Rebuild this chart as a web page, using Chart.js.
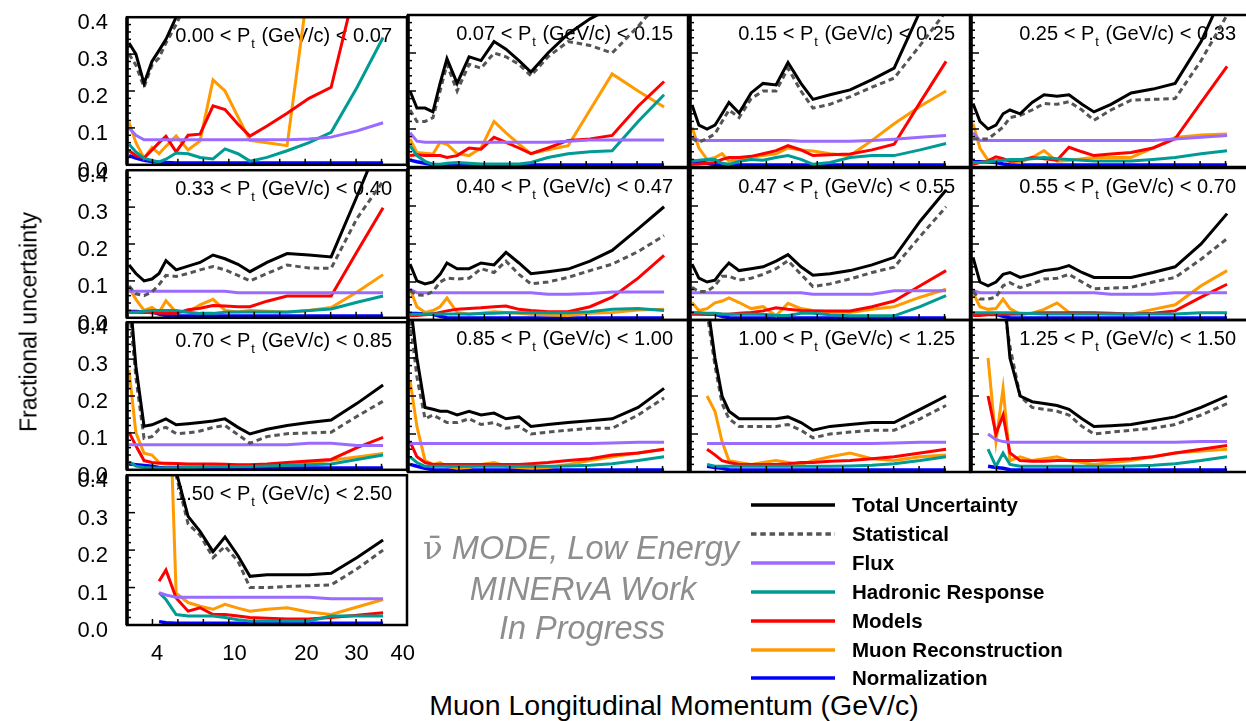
<!DOCTYPE html>
<html>
<head>
<meta charset="utf-8">
<script src="https://cdn.jsdelivr.net/npm/chart.js@4.4.1/dist/chart.umd.min.js"></script>
<style>
  body { margin: 0; background: #fff; }
  #page { position: relative; width: 1246px; height: 721px; overflow: hidden; font-family: "Liberation Sans", Arial, sans-serif; }
  #page canvas { position: absolute; }
  .txt { position: absolute; white-space: nowrap; line-height: 1; transform: translate(-50%, -50%); }
  .leg { position: absolute; left: 751px; height: 20px; }
  .leg span { position: absolute; left: 101px; top: 0; font-weight: bold; font-size: 20.5px; line-height: 20px; color: #000; white-space: nowrap; }
</style>
</head>
<body>
<div id="page"></div>
<script>
// bin positions along the (non-uniform) muon p_z axis, in axis units
const pzPos = [0.08, 0.35, 0.67, 0.98, 1.26, 1.53, 1.93, 2.40, 2.87, 3.38, 3.85, 4.36, 4.83, 5.50, 6.29, 7.15, 8.02, 9.04, 10.06];
const pzTickPos = [1.18, 4.22, 7.05, 9.02, 10.83];
const pzTickLabels = ["4", "10", "20", "30", "40"];

const ptLow  = ["0.00", "0.07", "0.15", "0.25", "0.33", "0.40", "0.47", "0.55", "0.70", "0.85", "1.00", "1.25", "1.50"];
const ptHigh = ["0.07", "0.15", "0.25", "0.33", "0.40", "0.47", "0.55", "0.70", "0.85", "1.00", "1.25", "1.50", "2.50"];

const seriesNames = ["Total Uncertainty", "Statistical", "Flux", "Hadronic Response", "Models", "Muon Reconstruction", "Normalization"];

const total = [
  [0.33, 0.30, 0.22, 0.28, 0.31, 0.34, 0.40, 0.46, 0.50, 0.55, 0.60, 0.62, 0.65, 0.70, 0.75, 0.80, 0.85, 0.90, 0.95],
  [0.20, 0.155, 0.155, 0.145, 0.22, 0.285, 0.22, 0.29, 0.28, 0.33, 0.31, 0.28, 0.25, 0.30, 0.35, 0.39, 0.42, 0.45, 0.50],
  [0.163, 0.11, 0.10, 0.11, 0.14, 0.17, 0.142, 0.195, 0.22, 0.216, 0.275, 0.22, 0.178, 0.19, 0.203, 0.23, 0.26, 0.41, 0.50],
  [0.167, 0.12, 0.10, 0.11, 0.14, 0.15, 0.14, 0.17, 0.19, 0.186, 0.19, 0.165, 0.145, 0.165, 0.195, 0.205, 0.22, 0.33, 0.48],
  [0.143, 0.12, 0.10, 0.105, 0.12, 0.155, 0.13, 0.14, 0.15, 0.17, 0.16, 0.145, 0.125, 0.15, 0.174, 0.17, 0.165, 0.33, 0.50],
  [0.147, 0.103, 0.095, 0.10, 0.12, 0.15, 0.135, 0.135, 0.15, 0.145, 0.178, 0.15, 0.122, 0.127, 0.134, 0.155, 0.183, 0.24, 0.298],
  [0.147, 0.11, 0.10, 0.105, 0.13, 0.15, 0.13, 0.135, 0.14, 0.155, 0.172, 0.14, 0.118, 0.122, 0.13, 0.145, 0.165, 0.26, 0.342],
  [0.165, 0.10, 0.09, 0.10, 0.12, 0.125, 0.112, 0.12, 0.13, 0.134, 0.143, 0.125, 0.112, 0.112, 0.112, 0.125, 0.14, 0.20, 0.28],
  [0.50, 0.28, 0.118, 0.122, 0.13, 0.138, 0.122, 0.125, 0.128, 0.132, 0.138, 0.115, 0.097, 0.11, 0.12, 0.128, 0.135, 0.18, 0.23],
  [0.45, 0.30, 0.17, 0.165, 0.16, 0.16, 0.15, 0.16, 0.15, 0.155, 0.14, 0.145, 0.12, 0.125, 0.13, 0.135, 0.14, 0.17, 0.22],
  [null, null, 0.45, 0.30, 0.20, 0.16, 0.14, 0.14, 0.14, 0.14, 0.145, 0.13, 0.11, 0.12, 0.125, 0.13, 0.13, 0.165, 0.20],
  [null, null, null, 0.60, 0.50, 0.30, 0.20, 0.185, 0.18, 0.175, 0.165, 0.14, 0.12, 0.122, 0.125, 0.135, 0.145, 0.17, 0.20],
  [null, null, null, null, null, 0.60, 0.41, 0.29, 0.25, 0.196, 0.235, 0.185, 0.13, 0.134, 0.134, 0.134, 0.138, 0.18, 0.227]
];

const stat = [
  [0.30, 0.27, 0.21, 0.27, 0.29, 0.33, 0.38, 0.45, 0.50, 0.55, 0.60, 0.62, 0.65, 0.70, 0.75, 0.80, 0.85, 0.90, 0.95],
  [0.15, 0.12, 0.12, 0.13, 0.20, 0.27, 0.20, 0.27, 0.26, 0.30, 0.29, 0.27, 0.24, 0.29, 0.33, 0.32, 0.30, 0.37, 0.45],
  [0.075, 0.065, 0.075, 0.087, 0.12, 0.15, 0.13, 0.18, 0.20, 0.20, 0.26, 0.20, 0.155, 0.165, 0.185, 0.21, 0.234, 0.32, 0.41],
  [0.074, 0.074, 0.074, 0.09, 0.105, 0.13, 0.136, 0.15, 0.167, 0.165, 0.172, 0.15, 0.123, 0.15, 0.176, 0.178, 0.18, 0.28, 0.40],
  [0.086, 0.065, 0.06, 0.07, 0.09, 0.115, 0.112, 0.12, 0.13, 0.139, 0.13, 0.115, 0.10, 0.12, 0.143, 0.135, 0.134, 0.27, 0.37],
  [0.077, 0.066, 0.065, 0.075, 0.10, 0.11, 0.108, 0.11, 0.135, 0.125, 0.155, 0.12, 0.095, 0.10, 0.112, 0.13, 0.147, 0.18, 0.222],
  [0.086, 0.075, 0.075, 0.09, 0.115, 0.115, 0.105, 0.11, 0.12, 0.135, 0.156, 0.12, 0.088, 0.095, 0.108, 0.125, 0.139, 0.22, 0.298],
  [0.075, 0.055, 0.055, 0.06, 0.09, 0.098, 0.085, 0.095, 0.108, 0.11, 0.12, 0.10, 0.082, 0.084, 0.086, 0.10, 0.112, 0.16, 0.214],
  [0.45, 0.25, 0.085, 0.09, 0.11, 0.115, 0.098, 0.10, 0.105, 0.115, 0.12, 0.095, 0.072, 0.09, 0.098, 0.10, 0.102, 0.145, 0.186],
  [0.40, 0.25, 0.14, 0.15, 0.14, 0.13, 0.13, 0.14, 0.125, 0.13, 0.115, 0.12, 0.10, 0.105, 0.11, 0.115, 0.115, 0.15, 0.195],
  [null, null, 0.42, 0.28, 0.18, 0.14, 0.12, 0.12, 0.12, 0.12, 0.125, 0.11, 0.09, 0.10, 0.105, 0.11, 0.11, 0.14, 0.175],
  [null, null, null, 0.50, 0.45, 0.33, 0.20, 0.17, 0.165, 0.16, 0.15, 0.12, 0.10, 0.105, 0.11, 0.115, 0.125, 0.15, 0.18],
  [null, null, null, null, null, 0.55, 0.40, 0.27, 0.24, 0.18, 0.21, 0.17, 0.10, 0.10, 0.103, 0.105, 0.107, 0.15, 0.20]
];

const flux = [
  [0.10, 0.08, 0.068, 0.068, 0.068, 0.068, 0.068, 0.068, 0.068, 0.068, 0.068, 0.068, 0.068, 0.068, 0.068, 0.07, 0.075, 0.092, 0.114],
  [0.09, 0.068, 0.065, 0.065, 0.065, 0.065, 0.065, 0.065, 0.065, 0.065, 0.065, 0.065, 0.065, 0.065, 0.068, 0.071, 0.071, 0.071, 0.071],
  [0.078, 0.07, 0.07, 0.07, 0.07, 0.07, 0.07, 0.07, 0.07, 0.07, 0.07, 0.068, 0.068, 0.068, 0.068, 0.07, 0.073, 0.078, 0.083],
  [0.09, 0.07, 0.07, 0.07, 0.07, 0.07, 0.07, 0.07, 0.07, 0.07, 0.07, 0.07, 0.07, 0.07, 0.07, 0.07, 0.074, 0.078, 0.083],
  [0.072, 0.072, 0.072, 0.072, 0.072, 0.072, 0.072, 0.072, 0.072, 0.072, 0.072, 0.068, 0.068, 0.068, 0.068, 0.068, 0.068, 0.068, 0.068],
  [0.081, 0.072, 0.072, 0.072, 0.072, 0.072, 0.072, 0.072, 0.072, 0.072, 0.072, 0.072, 0.072, 0.068, 0.068, 0.07, 0.074, 0.074, 0.074],
  [0.072, 0.072, 0.072, 0.072, 0.072, 0.072, 0.072, 0.072, 0.072, 0.072, 0.072, 0.072, 0.068, 0.068, 0.068, 0.068, 0.077, 0.077, 0.077],
  [0.077, 0.072, 0.072, 0.072, 0.072, 0.072, 0.072, 0.072, 0.072, 0.072, 0.072, 0.072, 0.072, 0.068, 0.068, 0.068, 0.072, 0.072, 0.072],
  [0.068, 0.068, 0.068, 0.068, 0.068, 0.068, 0.068, 0.068, 0.068, 0.068, 0.068, 0.068, 0.068, 0.068, 0.068, 0.072, 0.072, 0.066, 0.066],
  [0.075, 0.075, 0.075, 0.075, 0.075, 0.075, 0.075, 0.075, 0.075, 0.075, 0.075, 0.075, 0.075, 0.075, 0.075, 0.075, 0.076, 0.078, 0.078],
  [null, null, 0.075, 0.075, 0.075, 0.075, 0.075, 0.075, 0.075, 0.075, 0.075, 0.075, 0.075, 0.075, 0.075, 0.075, 0.076, 0.078, 0.078],
  [null, null, 0.10, 0.085, 0.08, 0.078, 0.078, 0.078, 0.078, 0.078, 0.078, 0.078, 0.078, 0.078, 0.078, 0.078, 0.078, 0.08, 0.08],
  [null, null, null, null, 0.086, 0.08, 0.074, 0.074, 0.074, 0.074, 0.074, 0.074, 0.074, 0.074, 0.074, 0.074, 0.07, 0.07, 0.07]
];

const hadronic = [
  [0.056, 0.035, 0.018, 0.012, 0.008, 0.015, 0.032, 0.03, 0.02, 0.016, 0.043, 0.03, 0.01, 0.02, 0.038, 0.06, 0.088, 0.21, 0.345],
  [0.056, 0.03, 0.015, 0.007, 0.007, 0.01, 0.012, 0.01, 0.008, 0.008, 0.008, 0.008, 0.012, 0.025, 0.035, 0.04, 0.043, 0.12, 0.19],
  [0.016, 0.018, 0.02, 0.02, 0.01, 0.007, 0.015, 0.02, 0.018, 0.025, 0.03, 0.02, 0.007, 0.012, 0.025, 0.03, 0.03, 0.045, 0.062],
  [0.012, 0.012, 0.014, 0.016, 0.018, 0.02, 0.02, 0.022, 0.025, 0.022, 0.02, 0.018, 0.016, 0.016, 0.016, 0.02, 0.025, 0.035, 0.043],
  [0.015, 0.015, 0.018, 0.02, 0.02, 0.02, 0.02, 0.015, 0.012, 0.012, 0.015, 0.016, 0.016, 0.016, 0.016, 0.02, 0.024, 0.042, 0.059],
  [0.015, 0.015, 0.016, 0.016, 0.016, 0.016, 0.016, 0.016, 0.017, 0.018, 0.019, 0.019, 0.019, 0.019, 0.019, 0.022, 0.028, 0.03, 0.025],
  [0.019, 0.019, 0.018, 0.018, 0.016, 0.015, 0.015, 0.015, 0.015, 0.012, 0.012, 0.018, 0.018, 0.014, 0.011, 0.011, 0.011, 0.035, 0.064],
  [0.019, 0.019, 0.019, 0.019, 0.019, 0.019, 0.018, 0.017, 0.016, 0.016, 0.016, 0.016, 0.016, 0.016, 0.016, 0.016, 0.016, 0.019, 0.019],
  [0.022, 0.01, 0.006, 0.005, 0.005, 0.005, 0.005, 0.006, 0.007, 0.008, 0.008, 0.008, 0.009, 0.01, 0.012, 0.014, 0.016, 0.028, 0.04],
  [0.04, 0.025, 0.015, 0.015, 0.015, 0.015, 0.015, 0.015, 0.015, 0.015, 0.015, 0.015, 0.015, 0.015, 0.016, 0.018, 0.022, 0.03, 0.04],
  [null, null, 0.02, 0.015, 0.015, 0.015, 0.015, 0.015, 0.015, 0.015, 0.015, 0.015, 0.015, 0.015, 0.016, 0.018, 0.022, 0.03, 0.04],
  [null, null, 0.06, 0.015, 0.05, 0.02, 0.015, 0.015, 0.015, 0.015, 0.015, 0.015, 0.015, 0.015, 0.016, 0.018, 0.022, 0.03, 0.04],
  [null, null, null, null, 0.086, 0.068, 0.028, 0.024, 0.024, 0.024, 0.02, 0.014, 0.011, 0.011, 0.011, 0.011, 0.024, 0.024, 0.024]
];

const models = [
  [0.038, 0.025, 0.018, 0.04, 0.06, 0.077, 0.035, 0.08, 0.083, 0.16, 0.15, 0.11, 0.078, 0.105, 0.14, 0.18, 0.21, 0.50, 0.60],
  [0.03, 0.032, 0.03, 0.03, 0.03, 0.025, 0.03, 0.05, 0.047, 0.078, 0.065, 0.05, 0.035, 0.05, 0.07, 0.074, 0.083, 0.16, 0.225],
  [0.007, 0.008, 0.01, 0.012, 0.02, 0.025, 0.025, 0.028, 0.035, 0.043, 0.056, 0.045, 0.03, 0.032, 0.034, 0.045, 0.06, 0.17, 0.278],
  [0.007, 0.012, 0.016, 0.027, 0.022, 0.015, 0.018, 0.025, 0.022, 0.018, 0.052, 0.04, 0.03, 0.034, 0.038, 0.05, 0.074, 0.17, 0.265],
  [0.015, 0.015, 0.015, 0.014, 0.013, 0.012, 0.012, 0.022, 0.026, 0.033, 0.032, 0.03, 0.03, 0.045, 0.059, 0.059, 0.059, 0.18, 0.298],
  [0.011, 0.012, 0.014, 0.016, 0.02, 0.024, 0.028, 0.03, 0.032, 0.035, 0.037, 0.028, 0.025, 0.022, 0.022, 0.035, 0.06, 0.11, 0.17],
  [0.015, 0.015, 0.015, 0.015, 0.015, 0.015, 0.018, 0.02, 0.024, 0.032, 0.028, 0.025, 0.024, 0.024, 0.024, 0.035, 0.05, 0.09, 0.13],
  [0.012, 0.012, 0.014, 0.014, 0.015, 0.015, 0.016, 0.018, 0.019, 0.019, 0.019, 0.019, 0.019, 0.018, 0.016, 0.018, 0.024, 0.06, 0.094],
  [0.102, 0.065, 0.025, 0.02, 0.018, 0.018, 0.017, 0.016, 0.016, 0.016, 0.015, 0.014, 0.014, 0.016, 0.02, 0.024, 0.028, 0.06, 0.088],
  [0.08, 0.04, 0.025, 0.02, 0.02, 0.02, 0.02, 0.02, 0.02, 0.02, 0.02, 0.02, 0.022, 0.025, 0.03, 0.035, 0.045, 0.05, 0.06],
  [null, null, 0.06, 0.045, 0.03, 0.025, 0.02, 0.02, 0.02, 0.02, 0.022, 0.025, 0.025, 0.028, 0.03, 0.035, 0.04, 0.05, 0.06],
  [null, null, 0.20, 0.10, 0.15, 0.05, 0.03, 0.028, 0.028, 0.03, 0.03, 0.03, 0.03, 0.032, 0.035, 0.04, 0.05, 0.06, 0.07],
  [null, null, null, null, 0.117, 0.147, 0.072, 0.037, 0.046, 0.028, 0.028, 0.024, 0.02, 0.018, 0.016, 0.016, 0.02, 0.026, 0.033]
];

const muon = [
  [0.115, 0.06, 0.018, 0.047, 0.03, 0.05, 0.078, 0.04, 0.065, 0.23, 0.20, 0.13, 0.066, 0.06, 0.052, 0.50, 0.60, 0.70, 0.80],
  [0.074, 0.038, 0.036, 0.034, 0.065, 0.06, 0.035, 0.03, 0.05, 0.12, 0.09, 0.06, 0.035, 0.045, 0.056, 0.15, 0.245, 0.20, 0.158],
  [0.105, 0.05, 0.02, 0.025, 0.035, 0.015, 0.022, 0.025, 0.03, 0.035, 0.05, 0.045, 0.042, 0.035, 0.03, 0.07, 0.114, 0.16, 0.20],
  [0.114, 0.05, 0.018, 0.018, 0.018, 0.016, 0.012, 0.025, 0.043, 0.015, 0.017, 0.022, 0.025, 0.025, 0.025, 0.05, 0.078, 0.084, 0.087],
  [0.081, 0.05, 0.02, 0.028, 0.015, 0.046, 0.015, 0.016, 0.035, 0.05, 0.02, 0.016, 0.02, 0.018, 0.015, 0.02, 0.028, 0.07, 0.117],
  [0.081, 0.035, 0.02, 0.025, 0.035, 0.058, 0.02, 0.015, 0.018, 0.022, 0.02, 0.018, 0.015, 0.013, 0.012, 0.018, 0.02, 0.026, 0.028],
  [0.046, 0.025, 0.03, 0.045, 0.05, 0.058, 0.046, 0.03, 0.035, 0.011, 0.044, 0.03, 0.025, 0.022, 0.02, 0.028, 0.035, 0.06, 0.081],
  [0.072, 0.035, 0.028, 0.03, 0.055, 0.03, 0.015, 0.018, 0.028, 0.045, 0.02, 0.018, 0.018, 0.016, 0.015, 0.028, 0.04, 0.09, 0.13],
  [0.27, 0.10, 0.045, 0.04, 0.02, 0.015, 0.015, 0.013, 0.012, 0.012, 0.012, 0.012, 0.012, 0.012, 0.013, 0.018, 0.026, 0.035, 0.044],
  [0.24, 0.12, 0.03, 0.02, 0.025, 0.015, 0.01, 0.012, 0.02, 0.025, 0.015, 0.012, 0.01, 0.012, 0.02, 0.03, 0.04, 0.05, 0.06],
  [null, null, 0.20, 0.16, 0.08, 0.03, 0.025, 0.02, 0.025, 0.03, 0.025, 0.02, 0.03, 0.04, 0.05, 0.035, 0.03, 0.04, 0.045],
  [null, null, 0.30, 0.08, 0.22, 0.03, 0.04, 0.03, 0.035, 0.04, 0.03, 0.025, 0.02, 0.025, 0.03, 0.04, 0.05, 0.055, 0.06],
  [null, null, null, null, null, 0.90, 0.085, 0.06, 0.05, 0.042, 0.055, 0.045, 0.037, 0.042, 0.046, 0.035, 0.028, 0.048, 0.068]
];

const norm = [
  [0.025, 0.018, 0.012, 0.009, 0.007, 0.006, 0.005, 0.005, 0.005, 0.005, 0.005, 0.005, 0.005, 0.005, 0.005, 0.005, 0.005, 0.005, 0.005],
  [0.018, 0.014, 0.01, 0.006, 0.005, 0.005, 0.005, 0.005, 0.005, 0.005, 0.005, 0.005, 0.005, 0.005, 0.005, 0.005, 0.005, 0.005, 0.005],
  [0.016, 0.014, 0.01, 0.006, 0.005, 0.005, 0.005, 0.005, 0.005, 0.005, 0.005, 0.005, 0.005, 0.005, 0.005, 0.005, 0.005, 0.005, 0.005],
  [0.014, 0.014, 0.013, 0.012, 0.008, 0.006, 0.005, 0.005, 0.005, 0.005, 0.005, 0.005, 0.005, 0.005, 0.005, 0.005, 0.005, 0.005, 0.005],
  [0.017, 0.017, 0.016, 0.016, 0.01, 0.006, 0.005, 0.005, 0.005, 0.005, 0.005, 0.005, 0.005, 0.005, 0.005, 0.005, 0.005, 0.005, 0.005],
  [0.017, 0.017, 0.016, 0.015, 0.01, 0.006, 0.005, 0.005, 0.005, 0.005, 0.005, 0.005, 0.005, 0.005, 0.005, 0.005, 0.005, 0.005, 0.005],
  [0.018, 0.017, 0.016, 0.015, 0.01, 0.006, 0.005, 0.005, 0.005, 0.005, 0.005, 0.005, 0.005, 0.005, 0.005, 0.005, 0.005, 0.005, 0.005],
  [0.016, 0.016, 0.016, 0.015, 0.01, 0.006, 0.005, 0.005, 0.005, 0.005, 0.005, 0.005, 0.005, 0.005, 0.005, 0.005, 0.005, 0.005, 0.005],
  [0.016, 0.014, 0.012, 0.01, 0.006, 0.005, 0.005, 0.005, 0.005, 0.005, 0.005, 0.005, 0.005, 0.005, 0.005, 0.005, 0.005, 0.005, 0.005],
  [0.02, 0.015, 0.01, 0.006, 0.005, 0.005, 0.005, 0.005, 0.005, 0.005, 0.005, 0.005, 0.005, 0.005, 0.005, 0.005, 0.005, 0.005, 0.005],
  [null, null, 0.015, 0.012, 0.01, 0.006, 0.005, 0.005, 0.005, 0.005, 0.005, 0.005, 0.005, 0.005, 0.005, 0.005, 0.005, 0.005, 0.005],
  [null, null, 0.015, 0.012, 0.01, 0.006, 0.005, 0.005, 0.005, 0.005, 0.005, 0.005, 0.005, 0.005, 0.005, 0.005, 0.005, 0.005, 0.005],
  [null, null, null, null, 0.009, 0.006, 0.005, 0.005, 0.005, 0.005, 0.005, 0.005, 0.005, 0.005, 0.005, 0.005, 0.005, 0.005, 0.005]
];

const seriesData = [total, stat, flux, hadronic, models, muon, norm];
const seriesColors = ["#000000", "#555555", "#9b6bff", "#009b94", "#ff0000", "#ff9a00", "#0000ff"];
const seriesWidth = [3, 3, 3, 3, 3, 3, 3.5];
const statDash = [5.5, 3.8];

// panel frames on the page
const colLeft = [127, 408, 690, 971];
const rowTop = [15, 168, 320, 473];
const PW = 280, PH = 152, PAD = 22, XAXIS_H = 52;
const FONT = '"Liberation Sans", Arial, Helvetica, sans-serif';

Chart.defaults.font.family = FONT;

const page = document.getElementById("page");

const framePlugin = {
  id: "frame",
  afterDatasetsDraw(chart) {
    const { ctx, chartArea: a, scales } = chart;
    ctx.save();
    ctx.strokeStyle = "#000";
    // inner tick marks on the left axis
    ctx.lineWidth = 1.5;
    for (let k = 0; k <= 20; k++) {
      const y = scales.y.getPixelForValue(k * 0.02);
      const len = k % 5 === 0 ? 8 : 4;
      ctx.beginPath();
      ctx.moveTo(a.left, y);
      ctx.lineTo(a.left + len, y);
      ctx.stroke();
    }
    // inner tick marks on the bottom axis
    for (let k = 1; k <= 10; k++) {
      const x = scales.x.getPixelForValue(k);
      ctx.beginPath();
      ctx.moveTo(x, a.bottom);
      ctx.lineTo(x, a.bottom - 6);
      ctx.stroke();
    }
    ctx.lineWidth = 2.5;
    ctx.strokeRect(a.left, a.top, a.right - a.left, a.bottom - a.top);
    ctx.lineWidth = 3.5;
    ctx.beginPath();
    ctx.moveTo(a.left, a.top);
    ctx.lineTo(a.left, a.bottom);
    ctx.stroke();
    ctx.restore();
  }
};

const titlePlugin = {
  id: "ptTitle",
  beforeDatasetsDraw(chart, args, opts) {
    const { ctx, chartArea: a } = chart;
    const left = opts.lo + " < P";
    const right = " (GeV/c) < " + opts.hi;
    const big = "20px " + FONT, small = "13px " + FONT;
    ctx.save();
    ctx.fillStyle = "#000";
    ctx.textAlign = "right";
    ctx.textBaseline = "alphabetic";
    const base = a.top + 25;
    let x = a.right - 15;
    ctx.font = big;
    ctx.fillText(right, x, base);
    x -= ctx.measureText(right).width;
    ctx.font = small;
    ctx.fillText("t", x - 1, base + 6);
    x -= ctx.measureText("t").width + 2;
    ctx.font = big;
    ctx.fillText(left, x, base);
    ctx.restore();
  }
};

for (let i = 0; i < 13; i++) {
  const r = Math.floor(i / 4), c = i % 4;
  const hasY = c === 0, hasX = i === 12;
  const leftSpace = hasY ? colLeft[0] : PAD;
  const cv = document.createElement("canvas");
  const w = leftSpace + PW + PAD;
  const h = PAD + PH + (hasX ? XAXIS_H : PAD);
  cv.width = w; cv.height = h;
  cv.style.width = w + "px"; cv.style.height = h + "px";
  cv.style.left = (hasY ? 0 : colLeft[c] - PAD) + "px";
  cv.style.top = (rowTop[r] - PAD) + "px";
  page.appendChild(cv);

  const datasets = seriesData.map((arr, s) => ({
    label: seriesNames[s],
    data: pzPos.map((x, k) => ({ x: x, y: arr[i][k] })),
    borderColor: seriesColors[s],
    borderWidth: seriesWidth[s],
    borderDash: s === 1 ? statDash : [],
    pointRadius: 0,
    tension: 0,
    fill: false,
    spanGaps: false
  }));

  new Chart(cv, {
    type: "line",
    data: { datasets },
    options: {
      responsive: false,
      animation: false,
      devicePixelRatio: 1,
      layout: { padding: { left: hasY ? 0 : PAD, right: PAD, top: PAD, bottom: hasX ? 0 : PAD } },
      plugins: {
        legend: { display: false },
        tooltip: { enabled: false },
        ptTitle: { lo: ptLow[i], hi: ptHigh[i] }
      },
      scales: {
        x: {
          type: "linear",
          display: hasX,
          min: 0,
          max: 11,
          grid: { display: false },
          border: { display: false },
          afterBuildTicks: (scale) => { scale.ticks = pzTickPos.map(v => ({ value: v })); },
          afterFit: (scale) => { if (hasX) scale.height = XAXIS_H; },
          ticks: {
            autoSkip: false,
            maxRotation: 0,
            padding: 8,
            color: "#000",
            font: { size: 22 },
            callback: (v, idx) => pzTickLabels[idx]
          }
        },
        y: {
          type: "linear",
          display: hasY,
          min: 0,
          max: 0.4,
          grid: { display: false },
          border: { display: false },
          afterFit: (scale) => { if (hasY) scale.width = colLeft[0]; },
          ticks: {
            stepSize: 0.1,
            autoSkip: false,
            padding: 11,
            labelOffset: 6,
            color: "#000",
            font: { size: 22 },
            callback: (v) => Number(v).toFixed(1)
          }
        }
      }
    },
    plugins: [titlePlugin, framePlugin]
  });
}

// axis titles
function addText(html, x, y, style) {
  const d = document.createElement("div");
  d.className = "txt";
  d.innerHTML = html;
  d.style.left = x + "px";
  d.style.top = y + "px";
  Object.assign(d.style, style || {});
  page.appendChild(d);
  return d;
}
addText("Fractional uncertainty", 29, 322, { fontSize: "23px", transform: "translate(-50%, -50%) rotate(-90deg)" });
addText("Muon Longitudinal Momentum (GeV/c)", 674, 705, { fontSize: "28.5px" });

// mode annotation
const grey = "#8e8e8e";
addText('<span style="font-family:\'DejaVu Serif\',serif;font-style:normal">&#957;&#772;</span> MODE, Low Energy', 581, 548, { fontSize: "32.5px", fontStyle: "italic", color: grey });
addText("MINERvA Work", 583, 589, { fontSize: "32.5px", fontStyle: "italic", color: grey });
addText("In Progress", 582, 628, { fontSize: "32.5px", fontStyle: "italic", color: grey });

// legend
seriesNames.forEach((name, s) => {
  const yc = 505 + 28.9 * s;
  const row = document.createElement("div");
  row.className = "leg";
  row.style.top = (yc - 10) + "px";
  const dash = s === 1 ? ' stroke-dasharray="' + statDash.join(" ") + '"' : "";
  row.innerHTML = '<svg width="86" height="20" style="position:absolute;left:0;top:0">' +
    '<line x1="0" y1="10" x2="84" y2="10" stroke="' + seriesColors[s] + '" stroke-width="3.5"' + dash + '/></svg>' +
    '<span>' + name + '</span>';
  page.appendChild(row);
});
</script>
</body>
</html>
